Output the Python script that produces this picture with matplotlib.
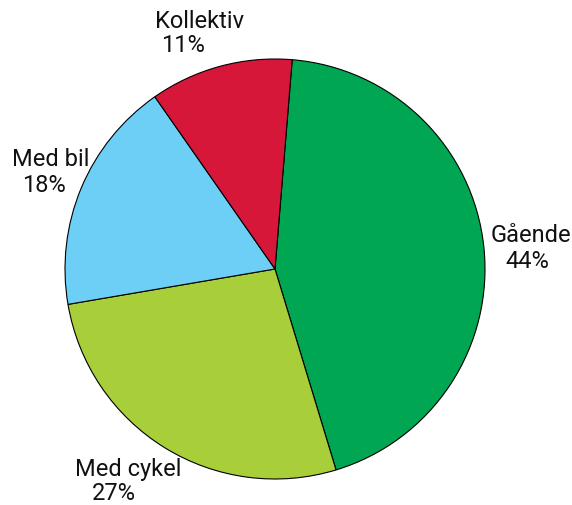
import matplotlib.pyplot as plt

# transport mode split
labels = ['Gående', 'Med cykel', 'Med bil', 'Kollektiv']
shares = [44, 27, 18, 11]
colors = ['#00A651', '#A8CF3A', '#6DCFF6', '#D7173A']

W, H = 572, 506
fig = plt.figure(figsize=(W / 100, H / 100), dpi=100)

# pie centre (275, 270) px, radius 210 px
cx, cy, r = 275, 270, 210
ax = fig.add_axes([(cx - r) / W, (H - cy - r) / H, 2 * r / W, 2 * r / H])
ax.pie(shares, colors=colors, startangle=85.3, counterclock=False,
       wedgeprops={'edgecolor': 'black', 'linewidth': 0.8})
ax.set_xlim(-1, 1)
ax.set_ylim(-1, 1)
ax.axis('off')

# label anchors in pixels: (name x, name y, pct x, pct y)
label_pos = [
    (531, 236, 527, 261),
    (128, 470, 114, 494),
    (51, 160, 44, 186),
    (200, 21, 183, 46),
]
for name, pct, (nx, ny, px, py) in zip(labels, shares, label_pos):
    fig.text(nx / W, 1 - ny / H, name, ha='center', va='center',
             fontsize=17, family='Roboto', color='#111111')
    fig.text(px / W, 1 - py / H, '%d%%' % pct, ha='center', va='center',
             fontsize=17, family='Roboto', color='#111111')

fig.savefig('out.png', dpi=100)
